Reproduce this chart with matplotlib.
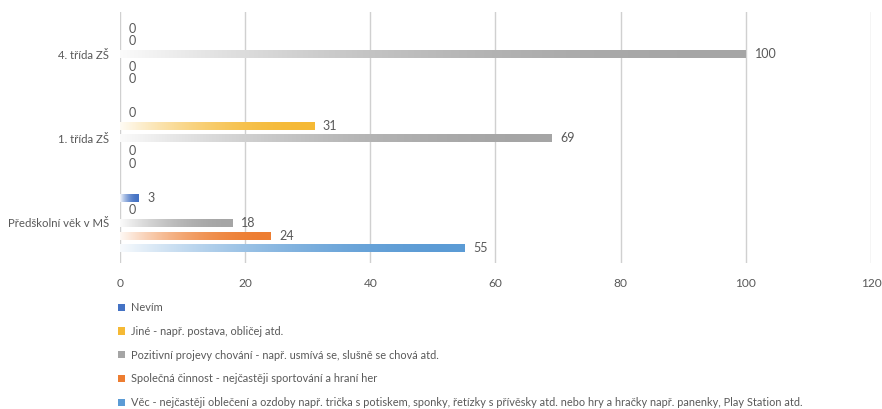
import matplotlib.pyplot as plt
import numpy as np
from matplotlib.colors import to_rgb

plt.rcParams['font.family'] = ['Lato', 'DejaVu Sans']

categories = ['Předškolní věk v MŠ', '1. třída ZŠ', '4. třída ZŠ']
vec = [55, 0, 0]
spolecna = [24, 0, 0]
pozitivni = [18, 69, 100]
jine = [0, 31, 0]
nevim = [3, 0, 0]

series_names = [
    'Věc - nejčastěji oblečení a ozdoby např. trička s potiskem, sponky, řetízky s přívěsky atd. nebo hry a hračky např. panenky, Play Station atd.',
    'Společná činnost - nejčastěji sportování a hraní her',
    'Pozitivní projevy chování - např. usmívá se, slušně se chová atd.',
    'Jiné - např. postava, obličej atd.',
    'Nevím',
]
series_vals = [vec, spolecna, pozitivni, jine, nevim]
colors = ['#5B9BD5', '#ED7D31', '#A5A5A5', '#F5B935', '#4472C4']

txt = '#595959'
fig = plt.figure(figsize=(8.82, 4.09), dpi=100)
ax = fig.add_axes([0.136, 0.357, 0.8515, 0.614])

y = np.arange(len(categories))
step = 0.15
h = 0.095

def grad_fill(bar, color):
    # white -> colour ramp along the bar, like the office gradient fill
    x0, y0 = bar.get_x(), bar.get_y()
    w, hh = bar.get_width(), bar.get_height()
    if w <= 0:
        return
    t = np.linspace(0, 1, 256)
    k = 0.05 + 0.95 * (1 - (1 - t) ** 2.0)
    c = np.array(to_rgb(color))
    img = (1 - k)[:, None] * np.ones(3) + k[:, None] * c
    im = ax.imshow(img[None, :, :], extent=[x0, x0 + w, y0, y0 + hh],
                   aspect='auto', zorder=3, interpolation='bilinear')
    im.set_clip_path(bar)

handles = []
for i, (name, vals, col) in enumerate(zip(series_names, series_vals, colors)):
    off = (i - 2) * step
    bars = ax.barh(y + off, vals, height=h, color=col, label=name, zorder=2)
    for b, v in zip(bars, vals):
        grad_fill(b, col)
        ax.text(v + 1.4, b.get_y() + h / 2, str(v), va='center', ha='left',
                fontsize=9, color=txt, zorder=4)
    handles.append(bars)

ax.set_xlim(0, 120)
ax.set_ylim(-0.475, 2.5)
ax.set_xticks(range(0, 121, 20))
ax.set_yticks(y)
ax.set_yticklabels(categories)
ax.xaxis.grid(True, color='#D0D0D0', linewidth=1)
ax.set_axisbelow(True)
for s in ax.spines.values():
    s.set_visible(False)
ax.tick_params(axis='x', length=0, labelsize=8.6, colors=txt, pad=11)
ax.tick_params(axis='y', length=0, labelsize=8.2, colors=txt, pad=8)

leg = fig.legend(handles[::-1], series_names[::-1], loc='upper left',
                 bbox_to_anchor=(0.129, 0.272), frameon=False, fontsize=7.9,
                 handlelength=0.65, handleheight=0.65, handletextpad=0.5,
                 labelspacing=1.16, borderaxespad=0)
for t in leg.get_texts():
    t.set_color(txt)

fig.savefig('out.png', dpi=100)
